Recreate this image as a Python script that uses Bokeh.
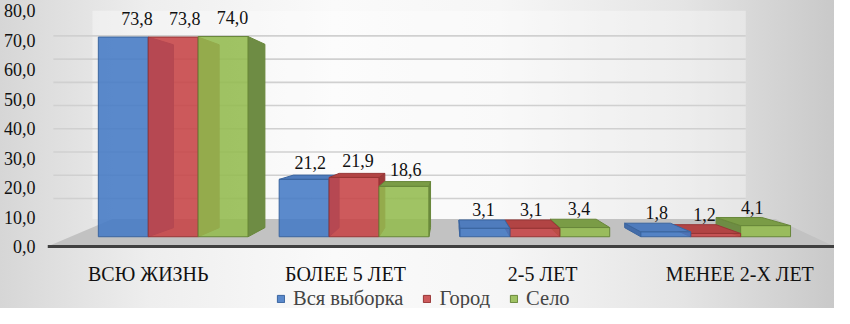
from bokeh.plotting import figure
from bokeh.models import ColumnDataSource, FixedTicker, Legend, LegendItem, Range1d
from bokeh.embed import file_html
from bokeh.resources import INLINE
from bokeh.core.properties import value

# ---------------- data ----------------
categories = ["ВСЮ ЖИЗНЬ", "БОЛЕЕ 5 ЛЕТ", "2-5 ЛЕТ", "МЕНЕЕ 2-Х ЛЕТ"]
series_names = ["Вся выборка", "Город", "Село"]
vsya_vyborka = [73.8, 21.2, 3.1, 1.8]
gorod = [73.8, 21.9, 3.1, 1.2]
selo = [74.0, 18.6, 3.4, 4.1]
y_ticks = [0, 10, 20, 30, 40, 50, 60, 70, 80]
y_tick_labels = ["0,0", "10,0", "20,0", "30,0", "40,0", "50,0", "60,0", "70,0", "80,0"]
grid_values = [0, 10, 20, 30, 40, 50, 60, 70]

series_values = [vsya_vyborka, gorod, selo]

# ---------------- style / 3D projection constants ----------------
FONT = "Liberation Serif"
VP_X, VP_Y = 1.523, 40.0        # vanishing point (axis units)
K_FRONT, K_BACK = 0.917, 0.84   # depth factors of bar front / back planes
BAR_W = 0.276                   # bar width in the axis plane
PX_PER_UNIT = 2.95              # screen px per value unit (for label offsets)
WALL_K, WALL_B = 0.787, 16.3    # back-wall grid mapping
FLOOR_DEPTH = 9.3
X_LO, X_HI = -0.511, 3.48
Y_LO = -21.0                    # room below the axis for labels and legend

palette = [
    dict(front="#447ac5", side="#446ca8", top="#4f7cbd", line="#3b659f"),
    dict(front="#c64346", side="#9e3a3a", top="#b24444", line="#983636"),
    dict(front="#93bb4f", side="#6e8c44", top="#7a9c46", line="#68873a"),
]


def px(x, k):
    return VP_X + (x - VP_X) * k


def py(y, k):
    return VP_Y + (y - VP_Y) * k


p = figure(width=834, height=308, x_range=Range1d(X_LO, X_HI), y_range=Range1d(Y_LO, 80),
           output_backend="svg", toolbar_location=None,
           min_border_left=45, min_border_right=0, min_border_top=10, min_border_bottom=0)
p.styles = {"background": "linear-gradient(90deg, #d6d6d6 0%, #eeeeee 18%, #fafafa 40%, #f6f6f6 60%, #e4e4e4 82%, #c9c9c9 100%)"}
p.border_fill_color = None
p.background_fill_color = None
p.outline_line_color = None
p.xgrid.visible = False
p.ygrid.visible = False

# back wall
p.quad(left=[-0.283], right=[3.03], bottom=[FLOOR_DEPTH], top=[80],
       fill_color="white", fill_alpha=0.35, line_color=None)

# back-wall gridlines
gy = [WALL_B + WALL_K * v for v in grid_values]
p.segment(x0=[X_LO + 0.03] * len(gy), x1=[3.03] * len(gy), y0=gy, y1=gy,
          line_color="#d0d0d0", line_width=1.6)

# floor
p.patch(x=[X_LO, X_HI, 3.181, -0.182], y=[0, 0, FLOOR_DEPTH, FLOOR_DEPTH],
        fill_color="#c2c2c2", line_color=None)

# bars, faces in painter's order
xs, ys, fills, lines, alphas = [], [], [], [], []
lab_x, lab_y, lab_t = [], [], []
legend_index = {}
for i in range(len(categories)):
    center_front = px(i, K_FRONT)
    order = list(range(3)) if center_front < VP_X else list(reversed(range(3)))
    for j in order:
        v = series_values[j][i]
        c = palette[j]
        x0 = i - 1.5 * BAR_W + j * BAR_W
        x1 = x0 + BAR_W
        fx0, fx1 = px(x0, K_FRONT), px(x1, K_FRONT)
        bx0, bx1 = px(x0, K_BACK), px(x1, K_BACK)
        fy0, fy1 = py(0, K_FRONT), py(v, K_FRONT)
        by0, by1 = py(0, K_BACK), py(v, K_BACK)
        # side face turned to the vanishing point
        if (fx0 + fx1) / 2 < VP_X:
            xs.append([fx1, fx1, bx1, bx1])
        else:
            xs.append([fx0, fx0, bx0, bx0])
        ys.append([fy0, fy1, by1, by0])
        fills.append(c["side"]); lines.append(c["line"]); alphas.append(1.0)
        # top face, when seen from above
        if by1 > fy1:
            xs.append([fx0, fx1, bx1, bx0])
            ys.append([fy1, fy1, by1, by1])
            fills.append(c["top"]); lines.append(c["line"]); alphas.append(1.0)
        # front face
        xs.append([fx0, fx1, fx1, fx0])
        ys.append([fy0, fy0, fy1, fy1])
        fills.append(c["front"]); lines.append(c["line"]); alphas.append(0.88)
        if i == 0:
            legend_index[j] = len(xs) - 1
        km = (K_FRONT + K_BACK) / 2
        lab_x.append(px((x0 + x1) / 2, km))
        lab_y.append(max(fy1, by1) + (10 + 0.12 * v) / PX_PER_UNIT)
        lab_t.append(f"{v:.1f}".replace(".", ","))

faces = ColumnDataSource(dict(xs=xs, ys=ys, fill=fills, line=lines, alpha=alphas))
r_faces = p.patches(xs="xs", ys="ys", source=faces, fill_color="fill", line_color="line",
                    fill_alpha="alpha", line_width=1)

labels = ColumnDataSource(dict(x=lab_x, y=lab_y, t=lab_t))
p.text(x="x", y="y", text="t", source=labels, text_font=value(FONT),
       text_font_size="18px", text_align="center", text_baseline="middle",
       text_color="#111111")

# axes
p.yaxis.ticker = FixedTicker(ticks=y_ticks)
p.yaxis.major_label_overrides = {t: l for t, l in zip(y_ticks, y_tick_labels)}
p.yaxis.axis_line_color = None
p.yaxis.major_tick_line_color = None
p.yaxis.minor_tick_line_color = None
p.yaxis.major_tick_out = 0
p.yaxis.major_tick_in = 0
p.yaxis.major_label_standoff = 12
p.yaxis.major_label_text_font = FONT
p.yaxis.major_label_text_font_size = "18px"
p.yaxis.major_label_text_color = "#111111"

p.xaxis.fixed_location = 0
p.xaxis.ticker = FixedTicker(ticks=list(range(len(categories))))
p.xaxis.major_label_overrides = {i: c for i, c in enumerate(categories)}
p.xaxis.axis_line_color = "#404040"
p.xaxis.axis_line_width = 3
p.xaxis.major_tick_line_color = None
p.xaxis.minor_tick_line_color = None
p.xaxis.major_tick_out = 0
p.xaxis.major_tick_in = 0
p.xaxis.major_label_standoff = 16
p.xaxis.major_label_text_font = FONT
p.xaxis.major_label_text_font_size = "20px"
p.xaxis.major_label_text_color = "#111111"

# legend
items = [LegendItem(label=name, renderers=[r_faces], index=legend_index[j])
         for j, name in enumerate(series_names)]
legend = Legend(items=items, orientation="horizontal", location=(229, -2),
                glyph_width=9, glyph_height=9, label_standoff=8, spacing=19,
                label_text_font=FONT, label_text_font_size="20.5px",
                border_line_color=None, background_fill_alpha=0, margin=0, padding=2)
p.add_layout(legend)

open("out.html", "w").write(file_html(p, INLINE))
